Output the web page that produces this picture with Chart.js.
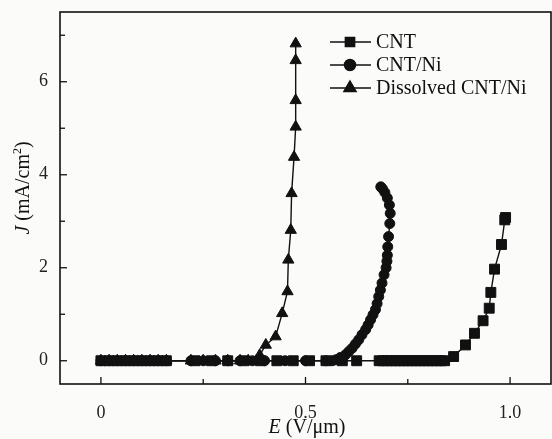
<!DOCTYPE html>
<html>
<head>
<meta charset="utf-8">
<script src="https://cdn.jsdelivr.net/npm/chart.js@4/dist/chart.umd.min.js"></script>
<style>
html,body{margin:0;padding:0;background:#fbfbfa;}
#wrap{width:552px;height:439px;}
</style>
</head>
<body>
<div id="wrap"><canvas id="c" width="552" height="439"></canvas></div>
<script>
// ---- data ----
const seriesNames = ["CNT", "CNT/Ni", "Dissolved CNT/Ni"];

const cntE = [0,0.02,0.04,0.06,0.08,0.10,0.12,0.14,0.16,0.23,0.27,0.31,0.35,0.39,0.43,0.47,0.51,0.55,0.59,0.625,
  0.68,0.69,0.70,0.71,0.72,0.73,0.74,0.75,0.76,0.77,0.78,0.79,0.80,0.81,0.82,0.83,0.84,
  0.862,0.891,0.913,0.934,0.949,0.953,0.962,0.979,0.987,0.989];
const cntJ = [0,0,0,0,0,0,0,0,0,0,0,0,0,0,0,0,0,0,0,0,
  0,0,0,0,0,0,0,0,0,0,0,0,0,0,0,0,0,
  0.09,0.34,0.59,0.86,1.13,1.47,1.97,2.50,3.03,3.08];

const niE = [0,0.02,0.04,0.06,0.08,0.10,0.12,0.14,0.16,0.22,0.25,0.28,0.31,0.34,0.37,0.40,0.45,0.50,0.55,0.565,
  0.574,0.585,0.598,0.606,0.614,0.622,0.630,0.638,0.647,0.653,0.659,0.665,0.671,0.675,0.679,0.683,0.687,0.692,0.697,0.699,0.700,0.701,0.703,0.706,0.707,0.705,0.700,0.694,0.688,0.684];
const niJ = [0,0,0,0,0,0,0,0,0,0,0,0,0,0,0,0,0,0,0,0,
  0.02,0.07,0.13,0.20,0.27,0.36,0.45,0.56,0.67,0.77,0.88,0.99,1.10,1.23,1.38,1.52,1.67,1.85,2.00,2.14,2.27,2.45,2.67,2.95,3.17,3.35,3.50,3.62,3.70,3.74];

const disE = [0,0.02,0.04,0.06,0.08,0.10,0.12,0.14,0.16,0.22,0.25,0.28,0.31,0.34,0.36,0.38,
  0.388,0.403,0.427,0.443,0.456,0.458,0.464,0.466,0.472,0.476,0.476,0.476,0.476];
const disJ = [0,0,0,0,0,0,0,0,0,0,0,0,0,0,0,0,
  0.12,0.34,0.52,1.02,1.49,2.17,2.81,3.60,4.38,5.03,5.60,6.46,6.82];

const xTicks = [0,0.25,0.5,0.75,1.0];
const xLabels = {"0":"0","0.5":"0.5","1":"1.0"};
const yTicks = [0,1,2,3,4,5,6,7];
const yLabels = {"0":"0","2":"2","4":"4","6":"6"};

const pts = (xs, ys) => xs.map((x, i) => ({x: x, y: ys[i]}));
const SERIF = "'Liberation Serif','DejaVu Serif',serif";

const frameAndTicks = {
  id: 'frameAndTicks',
  afterDraw(chart) {
    const ctx = chart.ctx, a = chart.chartArea;
    const xs = chart.scales.x, ys = chart.scales.y;
    ctx.save();
    ctx.strokeStyle = '#111';
    ctx.lineWidth = 1.6;
    ctx.strokeRect(a.left, a.top, a.right - a.left, a.bottom - a.top);
    ctx.lineWidth = 1.3;
    xTicks.forEach(v => {
      const px = xs.getPixelForValue(v);
      const major = xLabels[String(v)] !== undefined;
      ctx.beginPath(); ctx.moveTo(px, a.bottom); ctx.lineTo(px, a.bottom - (major ? 7 : 5)); ctx.stroke();
    });
    yTicks.forEach(v => {
      const py = ys.getPixelForValue(v);
      const major = yLabels[String(v)] !== undefined;
      ctx.beginPath(); ctx.moveTo(a.left, py); ctx.lineTo(a.left + (major ? 7 : 5), py); ctx.stroke();
    });
    // axis titles with italic symbols
    ctx.fillStyle = '#111';
    ctx.textBaseline = 'alphabetic';
    const drawMixed = (parts, cx, cy) => {
      let w = 0;
      parts.forEach(p => { ctx.font = p.f; w += ctx.measureText(p.t).width; });
      let x = cx - w / 2;
      parts.forEach(p => { ctx.font = p.f; ctx.fillText(p.t, x, cy + (p.dy || 0)); x += ctx.measureText(p.t).width; });
    };
    const R = '20px ' + SERIF, I = 'italic 20px ' + SERIF, S = '12px ' + SERIF;
    drawMixed([{t:'E', f:I}, {t:' (V/\u03bcm)', f:R}], 307, 433);
    ctx.save();
    ctx.translate(29, 188);
    ctx.rotate(-Math.PI / 2);
    drawMixed([{t:'J', f:I}, {t:' (mA/cm', f:R}, {t:'2', f:S, dy:-8}, {t:')', f:R}], 0, 0);
    ctx.restore();
    // legend
    const rows = [{y: 42, s: 'rect', r: 6.5}, {y: 65, s: 'circle', r: 5.5}, {y: 88, s: 'triangle', r: 7}];
    rows.forEach((row, i) => {
      ctx.lineWidth = 1.5;
      ctx.beginPath(); ctx.moveTo(330, row.y); ctx.lineTo(371, row.y); ctx.stroke();
      Chart.helpers.drawPoint(ctx, {pointStyle: row.s, radius: row.r, rotation: 0, borderWidth: 1}, 350, row.y);
      ctx.fill();
      ctx.font = R;
      ctx.textBaseline = 'middle';
      ctx.fillText(seriesNames[i], 376, row.y + 1);
    });
    ctx.restore();
  }
};

const ds = (label, data, style, r) => ({
  label, data, pointStyle: style, pointRadius: r, pointHoverRadius: r,
  borderColor: '#111', backgroundColor: '#111', pointBackgroundColor: '#111', pointBorderColor: '#111',
  borderWidth: 1.4, pointBorderWidth: 1, showLine: true, tension: 0, fill: false
});

new Chart(document.getElementById('c'), {
  type: 'scatter',
  data: {
    datasets: [
      ds(seriesNames[0], pts(cntE, cntJ), 'rect', 7),
      ds(seriesNames[1], pts(niE, niJ), 'circle', 5),
      ds(seriesNames[2], pts(disE, disJ), 'triangle', 6.5)
    ]
  },
  options: {
    responsive: false,
    animation: false,
    devicePixelRatio: 1,
    layout: {autoPadding: false, padding: {top: 12, right: 1, left: 0, bottom: 0}},
    plugins: {legend: {display: false}, tooltip: {enabled: false}, title: {display: false}},
    scales: {
      x: {
        type: 'linear', min: -0.1, max: 1.1,
        afterFit(s) { s.height = 55; s.paddingLeft = 0; s.paddingRight = 0; },
        afterBuildTicks(s) { s.ticks = xTicks.map(v => ({value: v})); },
        grid: {display: false, drawTicks: false},
        border: {display: false},
        ticks: {
          padding: 18, color: '#222', font: {family: SERIF, size: 18}, maxRotation: 0, autoSkip: false,
          callback: v => xLabels[String(v)] !== undefined ? xLabels[String(v)] : ''
        }
      },
      y: {
        type: 'linear', min: -0.5, max: 7.5,
        afterFit(s) { s.width = 60; s.paddingTop = 0; s.paddingBottom = 0; },
        afterBuildTicks(s) { s.ticks = yTicks.map(v => ({value: v})); },
        grid: {display: false, drawTicks: false},
        border: {display: false},
        ticks: {
          padding: 12, color: '#222', font: {family: SERIF, size: 18}, autoSkip: false,
          callback: v => yLabels[String(v)] !== undefined ? yLabels[String(v)] : ''
        }
      }
    }
  },
  plugins: [frameAndTicks]
});
</script>
</body>
</html>
